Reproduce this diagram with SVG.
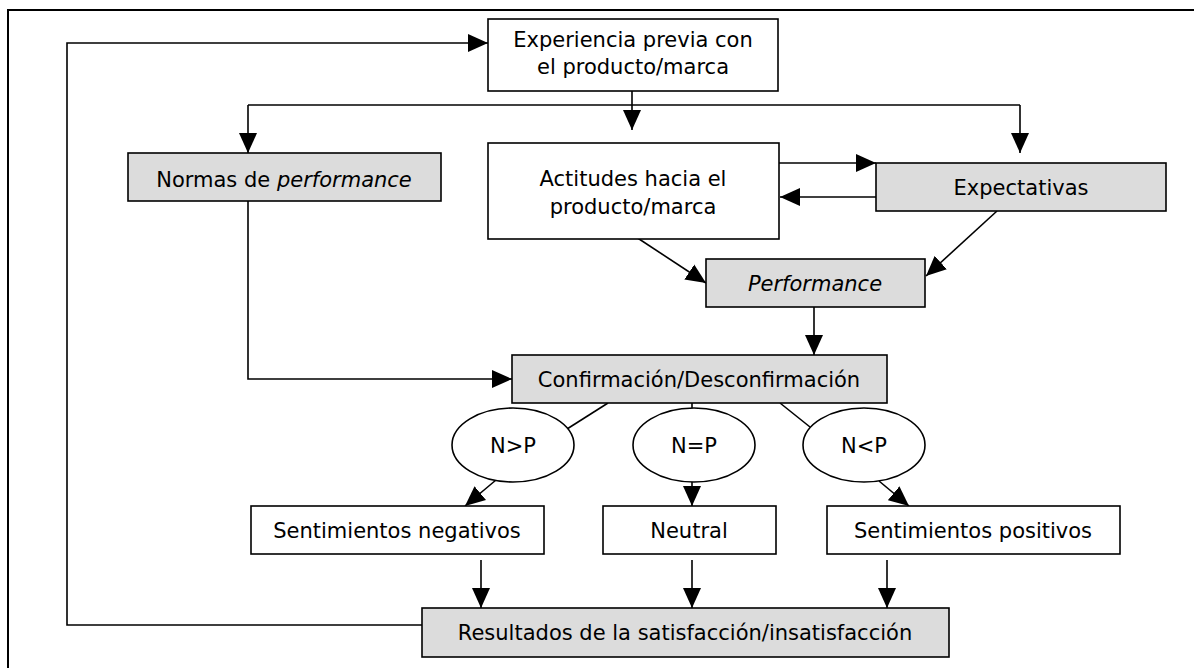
<svg xmlns="http://www.w3.org/2000/svg" width="1194" height="668" viewBox="0 0 1194 668">
<style>
.box{fill:#ffffff;stroke:#000;stroke-width:1.6}
.gray{fill:#dcdcdc;stroke:#000;stroke-width:1.6}
.ell{fill:#ffffff;stroke:#000;stroke-width:1.6}
.t{font-family:"DejaVu Sans",Verdana,sans-serif;font-size:21px;fill:#000;text-anchor:middle}
.i{font-style:italic}
.c{fill:none;stroke:#000;stroke-width:1.6}
.a{marker-end:url(#ah)}
</style>
<defs>
<marker id="ah" markerUnits="userSpaceOnUse" markerWidth="20" markerHeight="20" refX="20" refY="10" orient="auto">
<path d="M0,1 L20,10 L0,19 Z" fill="#000"/>
</marker>
</defs>
<rect x="0" y="0" width="1194" height="668" fill="#fff"/>
<path d="M8,668 V10 H1194" fill="none" stroke="#000" stroke-width="2"/>
<g id="connectors">
<path class="c a" d="M632,91 V130"/>
<path class="c" d="M248,105 H1020"/>
<path class="c a" d="M248,105 V153"/>
<path class="c a" d="M1020,105 V153"/>
<path class="c a" d="M779,163 H876"/>
<path class="c a" d="M876,197 H780"/>
<path class="c a" d="M633,235 L706,283"/>
<path class="c a" d="M997,211 L926,276"/>
<path class="c a" d="M814,307 V355"/>
<path class="c a" d="M248,201 V379 H512"/>
<path class="c" d="M608,403 L567,429"/>
<path class="c" d="M692,403 V409"/>
<path class="c" d="M780,403 L810,427"/>
<path class="c a" d="M496,480 L465,506"/>
<path class="c a" d="M692,482 V506"/>
<path class="c a" d="M879,481 L909,506"/>
<path class="c a" d="M481,560 V608"/>
<path class="c a" d="M692,560 V608"/>
<path class="c a" d="M887,560 V608"/>
<path class="c a" d="M422,625 H67 V43 H488"/>
</g>
<g id="experiencia">
<rect class="box" x="488" y="19" width="290" height="72"/>
<text class="t" x="633" y="47">Experiencia previa con</text>
<text class="t" x="633" y="74">el producto/marca</text>
</g>
<g id="normas">
<rect class="gray" x="128" y="153" width="313" height="48"/>
<text class="t" x="284" y="187">Normas de <tspan class="i">performance</tspan></text>
</g>
<g id="actitudes">
<rect class="box" x="488" y="143" width="291" height="96"/>
<text class="t" x="633" y="186">Actitudes hacia el</text>
<text class="t" x="633" y="214">producto/marca</text>
</g>
<g id="expectativas">
<rect class="gray" x="876" y="163" width="290" height="48"/>
<text class="t" x="1021" y="195">Expectativas</text>
</g>
<g id="performance">
<rect class="gray" x="706" y="259" width="219" height="48"/>
<text class="t i" x="815" y="291">Performance</text>
</g>
<g id="confirmacion">
<rect class="gray" x="512" y="355" width="375" height="48"/>
<text class="t" x="699" y="387">Confirmación/Desconfirmación</text>
</g>
<g id="n-mayor-p">
<ellipse class="ell" cx="513" cy="445" rx="61" ry="37"/>
<text class="t" x="513" y="453">N&gt;P</text>
</g>
<g id="n-igual-p">
<ellipse class="ell" cx="694" cy="445" rx="61" ry="37"/>
<text class="t" x="694" y="453">N=P</text>
</g>
<g id="n-menor-p">
<ellipse class="ell" cx="864" cy="445" rx="61" ry="37"/>
<text class="t" x="864" y="453">N&lt;P</text>
</g>
<g id="sent-negativos">
<rect class="box" x="251" y="506" width="293" height="48"/>
<text class="t" x="397" y="538">Sentimientos negativos</text>
</g>
<g id="neutral">
<rect class="box" x="603" y="506" width="173" height="48"/>
<text class="t" x="689" y="538">Neutral</text>
</g>
<g id="sent-positivos">
<rect class="box" x="827" y="506" width="293" height="48"/>
<text class="t" x="973" y="538">Sentimientos positivos</text>
</g>
<g id="resultados">
<rect class="gray" x="422" y="608" width="527" height="49"/>
<text class="t" x="685" y="640">Resultados de la satisfacción/insatisfacción</text>
</g>
</svg>
